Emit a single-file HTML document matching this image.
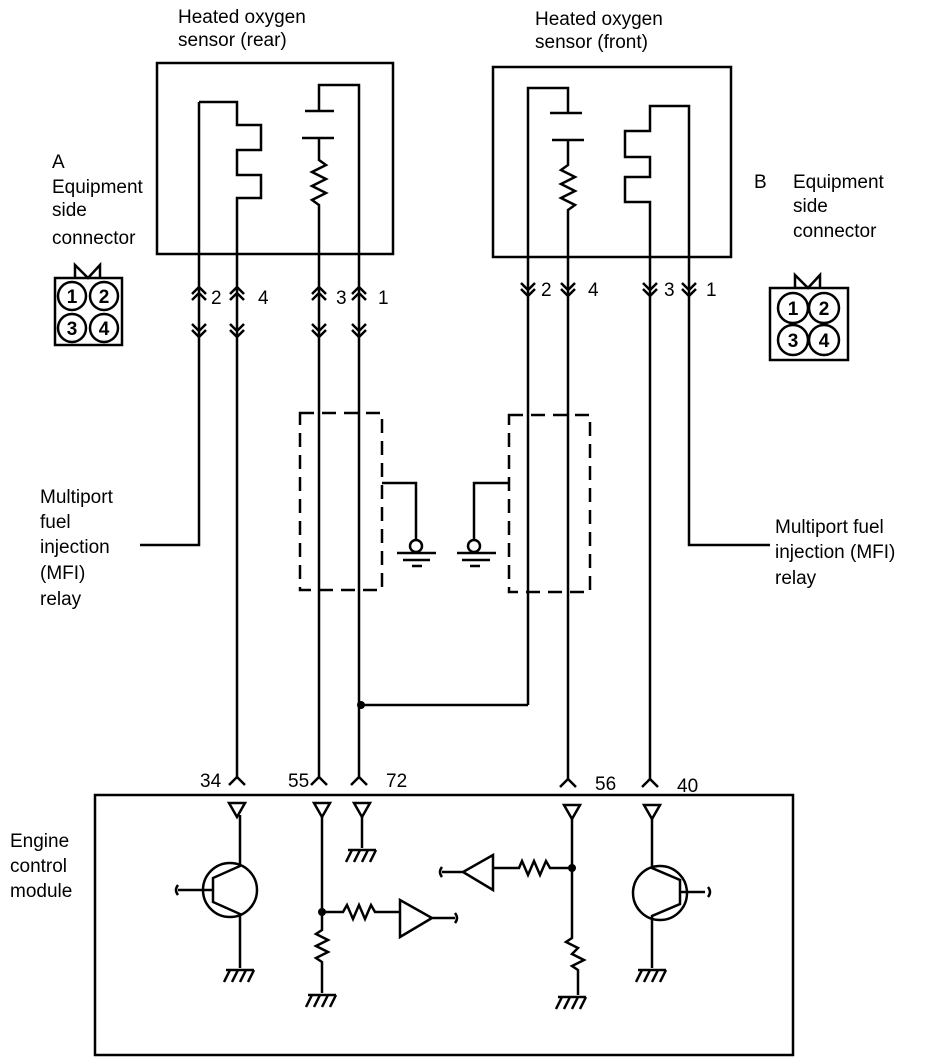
<!DOCTYPE html>
<html><head><meta charset="utf-8"><style>
html,body{margin:0;padding:0;background:#fff}
svg{display:block}
text{font-family:"Liberation Sans",sans-serif;font-size:19px;fill:#000}
</style></head><body>
<svg width="944" height="1064" viewBox="0 0 944 1064" xmlns="http://www.w3.org/2000/svg">
<defs>
<g id="up"><path d="M-7,7 L0,0 L7,7 M-7,13 L0,6 L7,13" fill="none" stroke="#000" stroke-width="2.5"/></g>
<g id="dn"><path d="M-7,-7 L0,0 L7,-7 M-7,-13 L0,-6 L7,-13" fill="none" stroke="#000" stroke-width="2.5"/></g>
<g id="gnd"><path d="M-14,0 H14 M-10,0 L-16,12 M-2,0 L-8,12 M6,0 L0,12 M14,0 L8,12" fill="none" stroke="#000" stroke-width="2.5"/></g>
<g id="tri"><path d="M-8,0 H8 L0,14 Z" fill="#fff" stroke="#000" stroke-width="2.5"/></g>
<g id="pin"><path d="M-8,8 L0,0 L8,8" fill="none" stroke="#000" stroke-width="2.5"/></g>
</defs>
<g fill="none" stroke="#000" stroke-width="2.5">
<!-- rear sensor -->
<rect x="157" y="63" width="236" height="191"/>
<path d="M199,102 H237 V125 H261 V150 H237 V175 H261 V198 H237 V777"/>
<path d="M199,102 V545 H140"/>
<path d="M319,777 V205 l-7,-5 l14,-7 l-14,-7 l14,-7 l-14,-7 l14,-7 l-7,-5 V138 M302,138 H334 M305,111 H334 M319,111 V85 H359 V777"/>
<!-- front sensor -->
<rect x="493" y="67" width="238" height="190"/>
<path d="M528,705 V88 H568 V113 M550,113 H582 M552,140 H584 M568,140 V165 l-7,5 l14,7 l-14,7 l14,7 l-14,7 l14,7 l-7,5 V779"/>
<path d="M528,705 H361"/>
<path d="M650,779 V202 H625 V177 H650 V157 H625 V131 H650 V106 H689 V545 H770"/>
<!-- dashed boxes -->
<rect x="300" y="413" width="82" height="177" stroke-dasharray="14,8"/>
<rect x="509" y="415" width="81" height="177" stroke-dasharray="14,8"/>
<path d="M382,483 H416 V540 M509,483 H474 V540"/>
<circle cx="416" cy="546" r="6"/><circle cx="474" cy="546" r="6"/>
<path d="M397,553 H436 M403,560 H430 M412,566 H422 M457,553 H496 M462,560 H490 M470,566 H480"/>
<!-- ECM -->
<rect x="95" y="795" width="698" height="260"/>
</g>
<circle cx="361" cy="705" r="4"/>
<!-- connector chevrons -->
<use href="#up" x="199" y="287"/><use href="#up" x="237" y="287"/><use href="#up" x="319" y="287"/><use href="#up" x="359" y="287"/>
<use href="#dn" x="199" y="337"/><use href="#dn" x="237" y="337"/><use href="#dn" x="319" y="337"/><use href="#dn" x="359" y="337"/>
<use href="#dn" x="528" y="296"/><use href="#dn" x="568" y="296"/><use href="#dn" x="650" y="296"/><use href="#dn" x="689" y="296"/>
<text x="211" y="304">2</text><text x="258" y="304">4</text><text x="336" y="304">3</text><text x="378" y="304">1</text>
<text x="541" y="296">2</text><text x="588" y="296">4</text><text x="664" y="296">3</text><text x="706" y="296">1</text>
<!-- ECM pins -->
<use href="#pin" x="237" y="777"/><use href="#pin" x="319" y="777"/><use href="#pin" x="359" y="777"/><use href="#pin" x="568" y="779"/><use href="#pin" x="650" y="779"/>
<text x="200" y="787">34</text><text x="288" y="787">55</text><text x="386" y="787">72</text><text x="595" y="790">56</text><text x="677" y="792">40</text>
<g fill="none" stroke="#000" stroke-width="2.5">
<!-- left transistor -->
<path d="M240,815 V866 L213,878 V902 L240,914 V968 M213,890 H178 M178,885 q-4,5 0,10"/>
<circle cx="230" cy="890" r="27"/>
<!-- pin 55 -->
<path d="M322,815 V930 l-6,4 l12,6 l-12,6 l12,6 l-12,6 l6,4 V993 M322,912 H343 l4,-7 l6,14 l6,-14 l6,14 l6,-14 l4,7 H400"/>
<path d="M400,900 V937 L432,918 Z M432,918 H455 M455,913 q4,5 0,10"/>
<!-- pin 72 -->
<path d="M362,815 V848"/>
<!-- pin 56 -->
<path d="M572,815 V938 l-6,4 l12,6 l-6,6 l12,6 l-12,6 l6,4 V995 M572,868 H550 l-4,-7 l-6,14 l-6,-14 l-6,14 l-6,-14 l-3,7 H493"/>
<path d="M493,855 V890 L463,872 Z M463,872 H442 M442,867 q-4,5 0,10"/>
<!-- right transistor -->
<path d="M652,815 V868 L680,880 V904 L652,916 V968 M680,892 H705 M708,887 q4,5 0,10"/>
<circle cx="660" cy="893" r="27"/>
</g>
<circle cx="322" cy="912" r="4"/><circle cx="572" cy="868" r="4"/>
<use href="#tri" x="237" y="803"/><use href="#tri" x="322" y="803"/><use href="#tri" x="362" y="803"/><use href="#tri" x="572" y="805"/><use href="#tri" x="652" y="805"/>
<use href="#gnd" x="240" y="970"/><use href="#gnd" x="322" y="995"/><use href="#gnd" x="362" y="850"/><use href="#gnd" x="572" y="997"/><use href="#gnd" x="652" y="970"/>
<!-- connector icons -->
<g fill="none" stroke="#000" stroke-width="2.5">
<rect x="55" y="278" width="67" height="67"/>
<path d="M75,278 V265 L88,278 L100,265 V278"/>
<rect x="770" y="288" width="78" height="72"/>
<path d="M795,288 V275 L808,288 L820,275 V288"/>
</g>
<g fill="#fff" stroke="#000" stroke-width="2.5">
<circle cx="72" cy="296" r="14"/><circle cx="104" cy="296" r="14"/><circle cx="72" cy="328" r="14"/><circle cx="104" cy="328" r="14"/>
<circle cx="793" cy="308" r="15"/><circle cx="824" cy="308" r="15"/><circle cx="793" cy="340" r="15"/><circle cx="824" cy="340" r="15"/>
</g>
<g font-weight="bold" text-anchor="middle">
<text x="72" y="303">1</text><text x="104" y="303">2</text><text x="72" y="335">3</text><text x="104" y="335">4</text>
<text x="793" y="315">1</text><text x="824" y="315">2</text><text x="793" y="347">3</text><text x="824" y="347">4</text>
</g>
<!-- labels -->
<text x="178" y="23">Heated oxygen</text><text x="178" y="46">sensor (rear)</text>
<text x="535" y="25">Heated oxygen</text><text x="535" y="48">sensor (front)</text>
<text x="52" y="168">A</text><text x="52" y="193">Equipment</text><text x="52" y="216">side</text><text x="52" y="244">connector</text>
<text x="754" y="188">B</text><text x="793" y="188">Equipment</text><text x="793" y="212">side</text><text x="793" y="237">connector</text>
<text x="40" y="503">Multiport</text><text x="40" y="528">fuel</text><text x="40" y="553">injection</text><text x="40" y="579">(MFI)</text><text x="40" y="605">relay</text>
<text x="775" y="533">Multiport fuel</text><text x="775" y="558">injection (MFI)</text><text x="775" y="584">relay</text>
<text x="10" y="847">Engine</text><text x="10" y="872">control</text><text x="10" y="897">module</text>
</svg>
</body></html>
